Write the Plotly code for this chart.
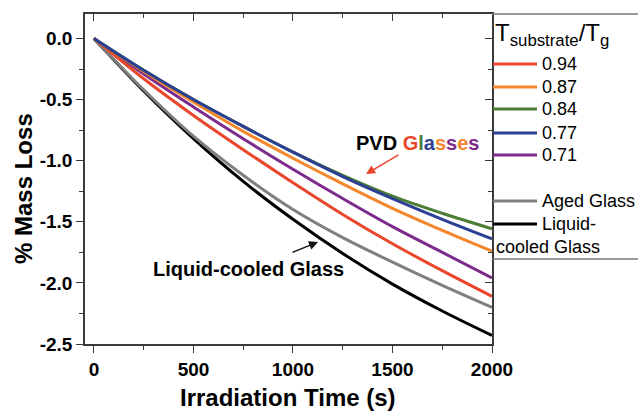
import plotly.graph_objects as go

# ---------------- data ----------------
time_s = [0, 250, 500, 750, 1000, 1250, 1500, 1750, 2000]

loss_094 = [0, -0.33, -0.63, -0.91, -1.18, -1.44, -1.68, -1.90, -2.11]
loss_087 = [0, -0.27, -0.52, -0.76, -0.98, -1.19, -1.39, -1.57, -1.74]
loss_084 = [0, -0.26, -0.50, -0.72, -0.93, -1.12, -1.29, -1.43, -1.557]
loss_077 = [0, -0.26, -0.50, -0.72, -0.93, -1.13, -1.31, -1.48, -1.64]
loss_071 = [0, -0.29, -0.56, -0.82, -1.07, -1.31, -1.54, -1.75, -1.96]
loss_aged = [0, -0.42, -0.80, -1.12, -1.40, -1.63, -1.83, -2.02, -2.20]
loss_liquid = [0, -0.43, -0.82, -1.17, -1.48, -1.76, -2.01, -2.23, -2.43]

labels = ["0.94", "0.87", "0.84", "0.77", "0.71", "Aged Glass", "Liquid-cooled Glass"]
series = [loss_094, loss_087, loss_084, loss_077, loss_071, loss_aged, loss_liquid]
colors = ["#e9462b", "#f4862c", "#4b7d34", "#2b3f93", "#7c2b8c", "#808080", "#000000"]

x_ticks = [0, 500, 1000, 1500, 2000]
y_ticks = [0.0, -0.5, -1.0, -1.5, -2.0, -2.5]

# ---------------- layout geometry ----------------
W, H = 638, 411
L, R, T, B = 85, 492, 14, 344
FONT = "Arial, Liberation Sans, sans-serif"
AXC = "#3a3a3a"


def px_x(p):
    return (p - L) / (R - L)


def px_y(p):
    return (B - p) / (B - T)


fig = go.Figure()

draw_order = [6, 5, 4, 0, 1, 2, 3]
for i in draw_order:
    fig.add_trace(go.Scatter(
        x=time_s, y=series[i], mode="lines", name=labels[i],
        line=dict(color=colors[i], width=3, shape="spline", smoothing=1.0),
        showlegend=False, hoverinfo="skip"))

# dummy trace for mirror axes (no points)
fig.add_trace(go.Scatter(x=[None], y=[None], xaxis="x2", yaxis="y2",
                         showlegend=False, hoverinfo="skip"))

xr = [-45, 2000]
yr = [-2.5, 0.2]

fig.update_layout(
    width=W, height=H,
    margin=dict(l=L, r=W - R, t=T, b=H - B),
    paper_bgcolor="white", plot_bgcolor="white",
    font=dict(family=FONT, color="black"),
    xaxis=dict(range=xr, tickvals=x_ticks, ticktext=[str(v) for v in x_ticks],
               ticks="outside", ticklen=7, tickwidth=1.3, tickcolor=AXC,
               minor=dict(dtick=250, tick0=0, ticks="outside", ticklen=4, tickcolor=AXC),
               showline=True, linecolor=AXC, linewidth=1.5, showgrid=False, zeroline=False,
               tickfont=dict(size=19, family=FONT, weight="bold")),
    yaxis=dict(range=yr, tickvals=y_ticks, ticktext=["%.1f" % v for v in y_ticks],
               ticks="outside", ticklen=7, tickwidth=1.3, tickcolor=AXC,
               minor=dict(dtick=0.25, tick0=0, ticks="outside", ticklen=4, tickcolor=AXC),
               showline=True, linecolor=AXC, linewidth=1.5, showgrid=False, zeroline=False,
               tickfont=dict(size=19, family=FONT, weight="bold")),
    xaxis2=dict(range=xr, overlaying="x", side="top", tickvals=x_ticks, showticklabels=False,
                ticks="inside", ticklen=7, tickwidth=1.3, tickcolor=AXC,
                minor=dict(dtick=250, tick0=0, ticks="inside", ticklen=4, tickcolor=AXC),
                showline=True, linecolor=AXC, linewidth=1.5, showgrid=False, zeroline=False),
    yaxis2=dict(range=yr, overlaying="y", side="right", tickvals=y_ticks, showticklabels=False,
                ticks="inside", ticklen=7, tickwidth=1.3, tickcolor=AXC,
                minor=dict(dtick=0.25, tick0=0, ticks="inside", ticklen=4, tickcolor=AXC),
                showline=True, linecolor=AXC, linewidth=1.5, showgrid=False, zeroline=False),
)

ann = []
shapes = []

# axis titles
ann.append(dict(text="<b>Irradiation Time (s)</b>", xref="paper", yref="paper",
                x=px_x(288), y=px_y(397), xanchor="center", yanchor="middle",
                showarrow=False, font=dict(size=24, family=FONT)))
ann.append(dict(text="<b>% Mass Loss</b>", xref="paper", yref="paper",
                x=px_x(23), y=px_y(188), xanchor="center", yanchor="middle",
                textangle=-90, showarrow=False, font=dict(size=24, family=FONT)))

# legend box (top and bottom rules to the right of the plot)
shapes.append(dict(type="line", xref="paper", yref="paper", x0=1, x1=px_x(640),
                   y0=1, y1=1, line=dict(color="#777", width=1.5)))
shapes.append(dict(type="line", xref="paper", yref="paper", x0=1, x1=px_x(640),
                   y0=px_y(259), y1=px_y(259), line=dict(color="#777", width=1.5)))

ann.append(dict(text="T<sub>substrate</sub>/T<sub>g</sub>", xref="paper", yref="paper",
                x=px_x(493), y=px_y(35), xanchor="left", yanchor="middle",
                showarrow=False, font=dict(size=24, family=FONT)))

entry_y = [64, 87, 109, 133, 155, 201, 224]
for lab, col, ey in zip(labels, colors, entry_y):
    shapes.append(dict(type="line", xref="paper", yref="paper",
                       x0=px_x(493), x1=px_x(537), y0=px_y(ey), y1=px_y(ey),
                       line=dict(color=col, width=3)))
    if lab == "Liquid-cooled Glass":
        first, second = "Liquid-", "cooled Glass"
        ann.append(dict(text=first, xref="paper", yref="paper", x=px_x(540), y=px_y(ey),
                        xanchor="left", yanchor="middle", showarrow=False,
                        font=dict(size=18, family=FONT)))
        ann.append(dict(text=second, xref="paper", yref="paper", x=px_x(494), y=px_y(ey + 23),
                        xanchor="left", yanchor="middle", showarrow=False,
                        font=dict(size=18, family=FONT)))
    else:
        ann.append(dict(text=lab, xref="paper", yref="paper", x=px_x(540), y=px_y(ey),
                        xanchor="left", yanchor="middle", showarrow=False,
                        font=dict(size=18, family=FONT)))

# "PVD Glasses" annotation with multicolour letters
glass_cols = ["#e9462b", "#4b7d34", "#2b3f93", "#f4862c", "#7c2b8c", "#f4862c", "#7c2b8c"]
glass_txt = "".join("<span style='color:%s'>%s</span>" % (c, ch) for ch, c in zip("Glasses", glass_cols))
ann.append(dict(text="<b>PVD " + glass_txt + "</b>", xref="paper", yref="paper",
                x=px_x(417), y=px_y(143), xanchor="center", yanchor="middle",
                showarrow=False, font=dict(size=20, family=FONT)))
ann.append(dict(text="", xref="paper", yref="paper", x=px_x(366), y=px_y(174),
                ax=34, ay=-20, showarrow=True, arrowhead=2, arrowsize=1.2,
                arrowwidth=1.5, arrowcolor="#e9462b"))

ann.append(dict(text="<b>Liquid-cooled Glass</b>", xref="paper", yref="paper",
                x=px_x(248), y=px_y(269), xanchor="center", yanchor="middle",
                showarrow=False, font=dict(size=20, family=FONT)))
ann.append(dict(text="", xref="paper", yref="paper", x=px_x(318), y=px_y(242),
                ax=-27, ay=11, showarrow=True, arrowhead=2, arrowsize=1.2,
                arrowwidth=1.5, arrowcolor="#111"))

fig.update_layout(annotations=ann, shapes=shapes)

fig.write_html("out.html")
